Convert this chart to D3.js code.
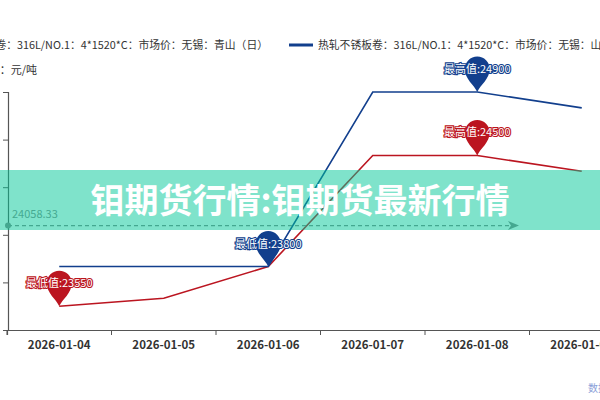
<!DOCTYPE html>
<html>
<head>
<meta charset="utf-8">
<script src="https://cdn.jsdelivr.net/npm/d3@7/dist/d3.min.js"></script>
<style>
  body { margin: 0; background: #fff; }
  svg { display: block; font-family: "Noto Sans CJK SC", "Noto Sans", sans-serif; }
</style>
</head>
<body>
<div id="chart"></div>
<script>
// data
var dates = ["2026-01-04", "2026-01-05", "2026-01-06", "2026-01-07", "2026-01-08", "2026-01-09"];
var qingshanValues = [23550, 23600, 23800, 24500, 24500, 24400];
var taigangValues = [23800, 23800, 23800, 24900, 24900, 24800];
var yTicks = [23400, 23700, 24000, 24300, 24600, 24900];
var legendNames = ["热轧不锈板卷：316L/NO.1：4*1520*C：市场价：无锡：青山（日）",
                   "热轧不锈板卷：316L/NO.1：4*1520*C：市场价：无锡：山西太钢（日）"];

var redColor = "#bb1520";
var blueColor = "#123f8d";

var svgWidth = 600, svgHeight = 400;

var svg = d3.select("#chart").append("svg")
  .attr("width", svgWidth)
  .attr("height", svgHeight);

// scales
var x = d3.scaleBand().domain(dates).range([7, 7 + 6 * 104.5]);
var y = d3.scaleLinear().domain([23400, 24900]).range([330, 92]);
var cx = function(d) { return x(d) + x.bandwidth() / 2; };

// legend
svg.append("text")
  .attr("x", 268).attr("y", 49)
  .attr("text-anchor", "end")
  .attr("font-size", 10.8).attr("fill", "#333")
  .text(legendNames[0]);
svg.append("line")
  .attr("x1", 289).attr("x2", 313).attr("y1", 45).attr("y2", 45)
  .attr("stroke", blueColor).attr("stroke-width", 3);
svg.append("text")
  .attr("x", 318).attr("y", 49)
  .attr("font-size", 10.8).attr("fill", "#333")
  .text(legendNames[1]);
svg.append("text")
  .attr("x", 37).attr("y", 74)
  .attr("text-anchor", "end")
  .attr("font-size", 11).attr("fill", "#333")
  .text("单位：元/吨");

// axes
var yAxis = svg.append("g")
  .attr("transform", "translate(8,0)")
  .call(d3.axisLeft(y).tickValues(yTicks).tickSize(5).tickPadding(8));
var xAxis = svg.append("g")
  .attr("transform", "translate(0,330)")
  .call(d3.axisBottom(x).tickSize(5).tickPadding(6));
[xAxis, yAxis].forEach(function(g) {
  g.select(".domain").attr("stroke", "#555").attr("stroke-width", 1.2);
  g.selectAll(".tick line").attr("stroke", "#555");
  g.selectAll("text").attr("fill", "#333").attr("font-size", 11.5)
    .attr("font-family", "Noto Sans CJK SC");
});
xAxis.selectAll(".tick line").attr("transform", "translate(" + (-x.bandwidth() / 2) + ",0)");
xAxis.selectAll("text").attr("font-weight", "bold");

// lines
var line = d3.line()
  .x(function(d, i) { return cx(dates[i]); })
  .y(function(d) { return y(d); });

svg.append("path").datum(qingshanValues)
  .attr("d", line).attr("fill", "none")
  .attr("stroke", redColor).attr("stroke-width", 1.6);
svg.append("path").datum(taigangValues)
  .attr("d", line).attr("fill", "none")
  .attr("stroke", blueColor).attr("stroke-width", 1.6);

// average mark line
var avg = d3.mean(qingshanValues);
var ay = y(avg);
svg.append("line")
  .attr("x1", 8).attr("x2", 512).attr("y1", ay).attr("y2", ay)
  .attr("stroke", "#888").attr("stroke-width", 1.2)
  .attr("stroke-dasharray", "4,3");
svg.append("circle").attr("cx", 8).attr("cy", ay).attr("r", 3).attr("fill", "#888");
svg.append("path")
  .attr("d", "M" + 519 + "," + ay + " l-11,-4.5 l3,4.5 l-3,4.5 Z")
  .attr("fill", "#888");
svg.append("text")
  .attr("x", 12).attr("y", ay - 8)
  .attr("font-size", 11).attr("fill", "#8a8a8a")
  .text(d3.format(".2f")(avg));

// mark points (pins), last occurrence of the extreme like the picture
var pinPath = "M0,0 C-3,-7 -12.5,-13 -12.5,-23 A12.5,12.5 0 1 1 12.5,-23 C12.5,-13 3,-7 0,0 Z";
function markPoint(values, kind, color) {
  var v = kind === "max" ? d3.max(values) : d3.min(values);
  var idx = values.lastIndexOf(v);
  var g = svg.append("g")
    .attr("transform", "translate(" + cx(dates[idx]) + "," + y(v) + ")");
  g.append("path").attr("d", pinPath).attr("fill", color);
  g.append("text")
    .attr("y", -19)
    .attr("text-anchor", "middle")
    .attr("font-size", 11)
    .attr("fill", "#fff")
    .attr("stroke", color).attr("stroke-width", 2.2)
    .attr("paint-order", "stroke")
    .text((kind === "max" ? "最高值:" : "最低值:") + v);
}
markPoint(qingshanValues, "max", redColor);
markPoint(qingshanValues, "min", redColor);
markPoint(taigangValues, "max", blueColor);
markPoint(taigangValues, "min", blueColor);

// source note
svg.append("text")
  .attr("x", 588).attr("y", 392)
  .attr("font-size", 10).attr("fill", "#8aa0d8")
  .text("数据来源：我的钢铁网");

// banner overlay
svg.append("rect")
  .attr("x", 0).attr("y", 170).attr("width", svgWidth).attr("height", 60)
  .attr("fill", "rgb(0,200,152)").attr("opacity", 0.5);
svg.append("text")
  .attr("x", 300).attr("y", 213)
  .attr("text-anchor", "middle")
  .attr("font-size", 34).attr("font-weight", "bold")
  .attr("fill", "#fff")
  .text("钼期货行情:钼期货最新行情");
</script>
</body>
</html>
